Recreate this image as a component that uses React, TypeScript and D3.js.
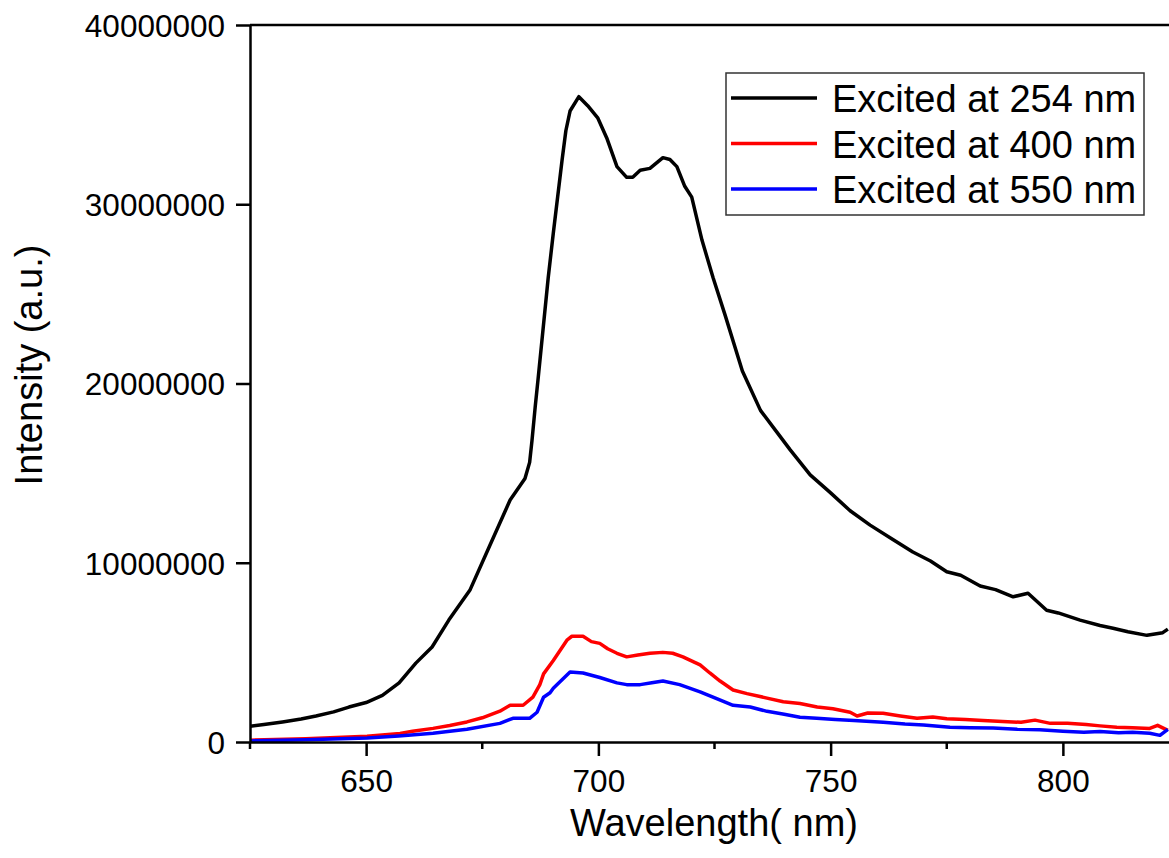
import React, { useEffect, useRef } from "react";
import * as d3 from "d3";

const blackWl = [625, 628, 632, 636, 639.2, 643, 646.3, 650, 653.5, 657.1, 660.7, 664.2, 667.8, 672.4, 676.7, 681, 684.2, 685.2, 685.7, 686.4, 687, 689.2, 690.3, 692.2, 693, 693.9, 695.8, 697.7, 699.9, 701.8, 704, 706.1, 707.4, 709, 711.1, 713.9, 715.4, 716.9, 718.6, 720.1, 722.3, 724.7, 727.3, 731, 734.9, 738.1, 741.3, 745.6, 750, 754.2, 758.5, 763.4, 767.7, 771.5, 775, 778, 782.2, 785.5, 789.3, 792.5, 796.5, 799, 803.7, 808, 810.8, 814, 818.1, 821.5, 822.6];
const blackVal = [0.88, 0.98, 1.12, 1.28, 1.45, 1.68, 1.95, 2.2, 2.6, 3.3, 4.4, 5.3, 6.8, 8.5, 11.0, 13.5, 14.7, 15.6, 16.8, 18.7, 20.2, 25.9, 28.4, 32.5, 34.1, 35.2, 36.0, 35.5, 34.8, 33.7, 32.1, 31.5, 31.5, 31.9, 32.0, 32.6, 32.5, 32.1, 31.0, 30.4, 28.0, 25.9, 23.8, 20.7, 18.5, 17.4, 16.3, 14.9, 13.9, 12.9, 12.1, 11.3, 10.6, 10.1, 9.5, 9.3, 8.7, 8.5, 8.1, 8.3, 7.35, 7.2, 6.8, 6.5, 6.35, 6.15, 5.95, 6.1, 6.3];

const redWl = [625, 637, 650.2, 657.3, 660, 664.4, 668, 671.7, 675, 678.8, 681, 683.8, 685.9, 687.4, 688.2, 690.3, 693.3, 694.3, 696.7, 698.5, 700.3, 702, 704, 706.1, 708.5, 711.1, 713.9, 716, 718.2, 721.9, 724, 726.2, 729, 732, 736.3, 739.8, 743.4, 747.1, 750.5, 754.2, 755.7, 758, 761.3, 765, 768.6, 772, 775, 779, 782.8, 787, 791, 794, 797.3, 801, 805, 808, 811.6, 815, 818.7, 820.4, 822.6];
const redVal = [0.1, 0.18, 0.32, 0.48, 0.6, 0.76, 0.92, 1.12, 1.35, 1.72, 2.05, 2.05, 2.5, 3.2, 3.8, 4.55, 5.7, 5.9, 5.9, 5.6, 5.5, 5.2, 4.95, 4.75, 4.85, 4.95, 5.0, 4.95, 4.75, 4.3, 3.85, 3.4, 2.9, 2.7, 2.45, 2.25, 2.15, 1.95, 1.85, 1.66, 1.45, 1.62, 1.6, 1.45, 1.32, 1.4, 1.3, 1.25, 1.2, 1.15, 1.1, 1.22, 1.04, 1.05, 0.98, 0.9, 0.82, 0.8, 0.76, 0.93, 0.65];

const blueWl = [625, 637, 650.2, 657, 664.4, 671.7, 678.8, 681.6, 685.2, 686.8, 688.2, 689.6, 690.3, 693.9, 696.7, 700.3, 704, 706.1, 709, 711.5, 713.9, 717.5, 721.9, 725.6, 729, 732.7, 736.3, 740, 743.4, 747, 751, 755, 761.3, 766, 770, 775.7, 780, 785, 790.2, 795, 800, 804.5, 808, 812, 815, 818.7, 820.9, 822.6];
const blueVal = [0.06, 0.12, 0.22, 0.34, 0.49, 0.71, 1.04, 1.32, 1.32, 1.66, 2.5, 2.75, 3.0, 3.9, 3.85, 3.6, 3.3, 3.2, 3.2, 3.3, 3.4, 3.2, 2.8, 2.4, 2.05, 1.95, 1.71, 1.55, 1.38, 1.32, 1.25, 1.2, 1.1, 1.0, 0.95, 0.82, 0.8, 0.78, 0.71, 0.68, 0.6, 0.55, 0.58, 0.52, 0.55, 0.49, 0.37, 0.71];

const seriesNames = ["Excited at 254 nm", "Excited at 400 nm", "Excited at 550 nm"];
const seriesColors = ["#000000", "#ff0000", "#0000ff"];
const xMajorTicks = [650, 700, 750, 800];
const xMinorTicks = [625, 675, 725, 775, 825];
const yTicks = [0, 10000000, 20000000, 30000000, 40000000];

export default function App() {
  const ref = useRef<SVGSVGElement>(null);

  useEffect(() => {
    const svg = d3.select(ref.current);
    svg.selectAll("*").remove();
    const font = "'Liberation Sans', Arial, sans-serif";
    const L = 250, R = 1179, T = 25, B = 742;
    const x = d3.scaleLinear().domain([625, 825]).range([L, R]);
    const y = d3.scaleLinear().domain([0, 40000000]).range([B, T]);

    svg.append("defs").append("clipPath").attr("id", "clip")
      .append("rect").attr("x", L).attr("y", T).attr("width", R - L).attr("height", B - T);

    const data = [
      blackWl.map((w, i) => [w, blackVal[i] * 1e6]),
      redWl.map((w, i) => [w, redVal[i] * 1e6]),
      blueWl.map((w, i) => [w, blueVal[i] * 1e6]),
    ];
    const line = d3.line<number[]>().x(d => x(d[0])).y(d => y(d[1]));
    const g = svg.append("g").attr("clip-path", "url(#clip)");
    data.forEach((d, i) => {
      g.append("path").attr("d", line(d as any)).attr("fill", "none")
        .attr("stroke", seriesColors[i]).attr("stroke-width", 3.5).attr("stroke-linejoin", "round");
    });

    // axes
    const xAxis = svg.append("g").attr("transform", `translate(0,${B})`)
      .call(d3.axisBottom(x).tickValues(xMajorTicks).tickSize(14).tickSizeOuter(0).tickFormat(d3.format("d")));
    xAxis.select(".domain").attr("stroke-width", 2.5);
    xAxis.selectAll(".tick line").attr("stroke-width", 2.5);
    xAxis.selectAll(".tick text").attr("font-size", 31.5).attr("font-family", font).attr("fill", "#000")
      .attr("y", 50).attr("dy", "0");
    svg.append("g").selectAll("line").data(xMinorTicks).join("line")
      .attr("x1", d => x(d)).attr("x2", d => x(d)).attr("y1", B).attr("y2", B + 7)
      .attr("stroke", "#000").attr("stroke-width", 2.5);

    const yAxis = svg.append("g").attr("transform", `translate(${L},0)`)
      .call(d3.axisLeft(y).tickValues(yTicks).tickSize(14).tickSizeOuter(0).tickFormat(d3.format("d")));
    yAxis.select(".domain").attr("stroke-width", 2.5);
    yAxis.selectAll(".tick line").attr("stroke-width", 2.5);
    yAxis.selectAll(".tick text").attr("font-size", 31.5).attr("font-family", font).attr("fill", "#000")
      .attr("x", -25).attr("dy", "0.36em");

    svg.append("line").attr("x1", L).attr("x2", R).attr("y1", T).attr("y2", T)
      .attr("stroke", "#000").attr("stroke-width", 2.5);
    svg.append("line").attr("x1", R).attr("x2", R).attr("y1", T).attr("y2", B)
      .attr("stroke", "#000").attr("stroke-width", 2.5);

    // titles
    svg.append("text").attr("x", 714).attr("y", 836).attr("text-anchor", "middle")
      .attr("font-size", 38).attr("font-family", font).text("Wavelength( nm)");
    svg.append("text").attr("transform", "translate(42,365) rotate(-90)").attr("text-anchor", "middle")
      .attr("font-size", 38).attr("font-family", font).text("Intensity (a.u.)");

    // legend
    const lg = svg.append("g");
    lg.append("rect").attr("x", 726).attr("y", 73).attr("width", 418).attr("height", 142)
      .attr("fill", "#fff").attr("stroke", "#333").attr("stroke-width", 1.5);
    seriesNames.forEach((name, i) => {
      const yy = 98 + i * 45.5;
      lg.append("line").attr("x1", 731).attr("x2", 817).attr("y1", yy).attr("y2", yy)
        .attr("stroke", seriesColors[i]).attr("stroke-width", 3.5);
      lg.append("text").attr("x", 832).attr("y", yy + 14).attr("font-size", 38)
        .attr("font-family", font).attr("fill", "#000").text(name);
    });
  }, []);

  return (
    <svg ref={ref} width={1169} height={858}
      style={{ position: "absolute", left: 0, top: 0, display: "block", background: "#fff" }} />
  );
}
